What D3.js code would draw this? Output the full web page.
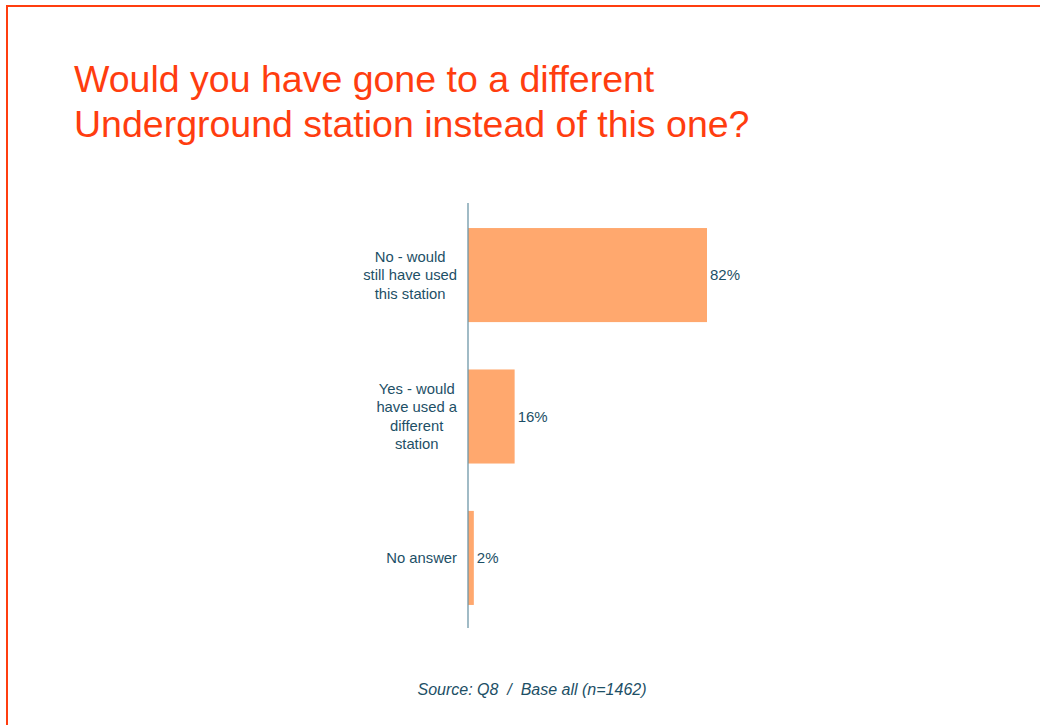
<!DOCTYPE html>
<html>
<head>
<meta charset="utf-8">
<script src="https://cdn.jsdelivr.net/npm/d3@7"></script>
<style>
  html, body { margin: 0; padding: 0; background: #fff; }
  svg { display: block; }
</style>
</head>
<body>
<script>
// Survey answers and their shares (%)
const categories = [
  ["No - would", "still have used", "this station"],
  ["Yes - would", "have used a", "different", "station"],
  ["No answer"]
];
const values = [82, 16, 2];
const titleLines = ["Would you have gone to a different", "Underground station instead of this one?"];
const sourceNote = "Source: Q8  /  Base all (n=1462)";

const W = 1040, H = 725;
const font = "Liberation Sans, Arial, sans-serif";
const svg = d3.select("body").append("svg").attr("width", W).attr("height", H);

// Slide frame: top and left edges
svg.append("line").attr("x1", 6).attr("x2", W).attr("y1", 6).attr("y2", 6)
  .attr("stroke", "#FF3D0F").attr("stroke-width", 2);
svg.append("line").attr("x1", 7).attr("x2", 7).attr("y1", 6).attr("y2", H)
  .attr("stroke", "#FF3D0F").attr("stroke-width", 2);

// Title
svg.append("g").selectAll("text").data(titleLines).join("text")
  .attr("x", 74).attr("y", (d, i) => 92 + i * 45)
  .attr("font-family", font)
  .attr("font-size", 37.5).attr("fill", "#FF3D0F")
  .text(d => d);

// Scales
const x0 = 468;
const x = d3.scaleLinear().domain([0, 82]).range([x0, 707]);
const y = d3.scaleBand().domain(d3.range(values.length)).range([204, 629])
  .paddingInner(0.335).paddingOuter(0.17);

const textColor = "#1D4F66";

// Bars
svg.append("g").selectAll("rect").data(values).join("rect")
  .attr("x", x(0)).attr("y", (d, i) => y(i))
  .attr("width", d => x(d) - x(0)).attr("height", y.bandwidth())
  .attr("fill", "#FFA86E");

// Vertical axis line
svg.append("line").attr("x1", x0).attr("x2", x0).attr("y1", 203).attr("y2", 628)
  .attr("stroke", "#6E97A8").attr("stroke-width", 1.3);

// Category labels: centred multi-line blocks whose widest line ends near the axis
const lineH = 18.5;
const labels = svg.append("g").selectAll("text").data(categories).join("text")
  .attr("text-anchor", "middle")
  .attr("font-family", font)
  .attr("font-size", 14.8).attr("fill", textColor);
labels.each(function(lines, i) {
  const cy = y(i) + y.bandwidth() / 2;
  const t = d3.select(this);
  const spans = lines.map((ln, j) => t.append("tspan")
    .attr("y", cy + (j - (lines.length - 1) / 2) * lineH + 5)
    .text(ln));
  const maxW = d3.max(spans, s => s.node().getComputedTextLength());
  const cx = x0 - 11 - maxW / 2;
  spans.forEach(s => s.attr("x", cx));
});

// Value labels
svg.append("g").selectAll("text").data(values).join("text")
  .attr("x", d => x(d) + 3)
  .attr("y", (d, i) => y(i) + y.bandwidth() / 2 + 5)
  .attr("font-family", font)
  .attr("font-size", 15).attr("fill", textColor)
  .text(d => d + "%");

// Source note
svg.append("text").attr("x", 532).attr("y", 695)
  .attr("text-anchor", "middle")
  .attr("font-family", font)
  .attr("font-size", 16).attr("font-style", "italic").attr("fill", textColor)
  .attr("xml:space", "preserve")
  .text(sourceNote);
</script>
</body>
</html>
